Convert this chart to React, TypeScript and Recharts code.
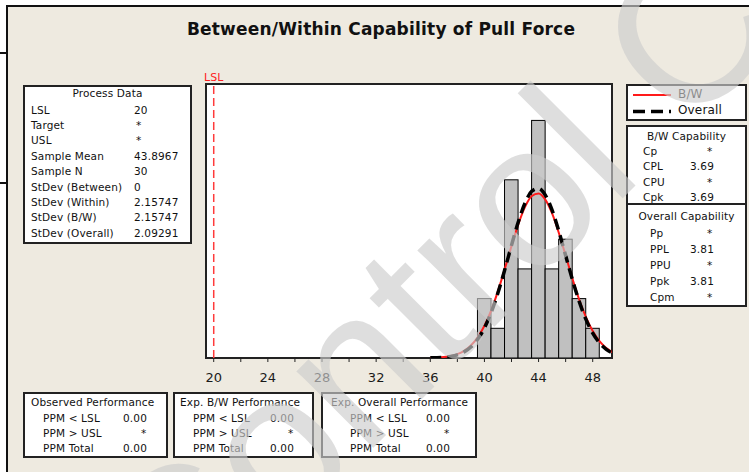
import { ComposedChart, Bar, Line, XAxis, YAxis, ReferenceLine } from 'recharts';

const TITLE = 'Between/Within Capability of Pull Force';

// histogram: bin centres (width 1) and counts
const BIN_WIDTH = 1;
const BIN_CENTERS = [40, 41, 42, 43, 44, 45, 46, 47, 48];
const BIN_COUNTS = [2, 1, 6, 3, 8, 3, 4, 2, 1];

// fitted curves (count scale)
const CURVE_X = [36, 36.5, 37, 37.5, 38, 38.5, 39, 39.5, 40, 40.5, 41, 41.5, 42, 42.5, 43, 43.5, 44, 44.5, 45, 45.5, 46, 46.5, 47, 47.5, 48, 48.5, 49, 49.5];
const BW_CURVE = [0.007, 0.016, 0.034, 0.068, 0.132, 0.243, 0.422, 0.695, 1.086, 1.606, 2.252, 2.993, 3.769, 4.498, 5.088, 5.454, 5.541, 5.334, 4.867, 4.209, 3.449, 2.679, 1.971, 1.375, 0.909, 0.57, 0.338, 0.19];
const OVERALL_CURVE = [0.005, 0.011, 0.025, 0.054, 0.108, 0.206, 0.37, 0.63, 1.011, 1.532, 2.195, 2.968, 3.793, 4.577, 5.217, 5.617, 5.712, 5.486, 4.976, 4.265, 3.451, 2.638, 1.905, 1.299, 0.837, 0.509, 0.293, 0.159];

const LSL = 20;
const X_DOMAIN = [19.43, 49.425];
const Y_DOMAIN = [0, 9.226];
const X_TICKS = [20, 22, 24, 26, 28, 30, 32, 34, 36, 38, 40, 42, 44, 46, 48];
const X_LABELS = [20, 24, 28, 32, 36, 40, 44, 48];

const PROCESS_LABELS = ['LSL', 'Target', 'USL', 'Sample Mean', 'Sample N', 'StDev (Between)', 'StDev (Within)', 'StDev (B/W)', 'StDev (Overall)'];
const PROCESS_VALUES = ['20', '*', '*', '43.8967', '30', '0', '2.15747', '2.15747', '2.09291'];

const BW_CAP_LABELS = ['Cp', 'CPL', 'CPU', 'Cpk'];
const BW_CAP_VALUES = ['*', '3.69', '*', '3.69'];
const OVERALL_CAP_LABELS = ['Pp', 'PPL', 'PPU', 'Ppk', 'Cpm'];
const OVERALL_CAP_VALUES = ['*', '3.81', '*', '3.81', '*'];

const PERF_LABELS = ['PPM < LSL', 'PPM > USL', 'PPM Total'];
const OBSERVED_VALUES = ['0.00', '*', '0.00'];
const EXP_BW_VALUES = ['0.00', '*', '0.00'];
const EXP_OVERALL_VALUES = ['0.00', '*', '0.00'];

const histData = BIN_CENTERS.map((x, i) => ({ x, count: BIN_COUNTS[i] }));
const bwData = CURVE_X.map((x, i) => ({ x, y: BW_CURVE[i] }));
const overallData = CURVE_X.map((x, i) => ({ x, y: OVERALL_CURVE[i] }));

const PLOT_W = 406;
const BIN_PX = (PLOT_W / (X_DOMAIN[1] - X_DOMAIN[0])) * BIN_WIDTH;

const BG = '#eeeae0';
const FONT = '"DejaVu Sans", Verdana, sans-serif';
const panelText: React.CSSProperties = {
  position: 'absolute',
  fontSize: 10.5,
  letterSpacing: 0.15,
  lineHeight: '13px',
  whiteSpace: 'nowrap',
  color: '#111',
};

function Txt({ x, y, children, w, center }: { x: number; y: number; children: React.ReactNode; w?: number; center?: boolean }) {
  return (
    <div style={{ ...panelText, left: x, top: y - 7, width: w, textAlign: center ? 'center' : 'left' }}>
      {children}
    </div>
  );
}

function Box({ x, y, w, h }: { x: number; y: number; w: number; h: number }) {
  return (
    <div
      style={{
        position: 'absolute',
        left: x,
        top: y,
        width: w,
        height: h,
        boxSizing: 'border-box',
        border: '2px solid #222',
        background: '#fff',
      }}
    />
  );
}

function PerfPanel({ x, w, title, titleX, lx, vx, values }: { x: number; w: number; title: string; titleX: number; lx: number; vx: number; values: string[] }) {
  return (
    <>
      <Box x={x} y={392} w={w} h={66} />
      <Txt x={titleX} y={403}>{title}</Txt>
      {PERF_LABELS.map((l, i) => (
        <Txt key={l} x={lx} y={419 + i * 15}>{l}</Txt>
      ))}
      {values.map((v, i) => (
        <Txt key={i} x={v === '*' ? vx + 18 : vx} y={419 + i * 15}>{v}</Txt>
      ))}
    </>
  );
}

const XTick = (props: any) => {
  const { x, y, payload } = props;
  if (!X_LABELS.includes(payload.value)) return null;
  return (
    <text x={x} y={y} dy={9.5} textAnchor="middle" fontSize={13} fill="#1a1a1a" fontFamily={FONT}>
      {payload.value}
    </text>
  );
};

// full-bin-width bar centred on its value
const HistBar = (props: any) => {
  const { x, y, width, height } = props;
  const cx = x + width / 2;
  return <rect x={cx - BIN_PX / 2} y={y} width={BIN_PX} height={height} fill="#c0c0c0" stroke="#000" strokeWidth={1} />;
};

export default function App() {
  return (
    <div style={{ position: 'relative', width: 749, height: 472, background: '#fff', overflow: 'hidden', fontFamily: FONT }}>
      <style>{'body{margin:0}'}</style>
      <div style={{ position: 'absolute', left: 6, top: 5, right: 0, bottom: 0, background: BG, borderLeft: '2px solid #111', borderTop: '2px solid #111' }} />
      <div style={{ position: 'absolute', left: 0, top: 52, width: 7, height: 2, background: '#111' }} />
      <div style={{ position: 'absolute', left: 0, top: 182, width: 7, height: 2, background: '#111' }} />

      <div style={{ position: 'absolute', left: 0, top: 19, width: 762, textAlign: 'center', fontSize: 17, fontWeight: 'bold', letterSpacing: 0.2, color: '#111', whiteSpace: 'nowrap' }}>
        {TITLE}
      </div>

      {/* process data */}
      <Box x={23} y={85} w={169} h={159} />
      <Txt x={23} y={94} w={169} center>Process Data</Txt>
      {PROCESS_LABELS.map((l, i) => (
        <Txt key={l} x={31} y={110.5 + i * 15.4}>{l}</Txt>
      ))}
      {PROCESS_VALUES.map((v, i) => (
        <Txt key={i} x={v === '*' ? 136 : 134} y={110.5 + i * 15.4}>{v}</Txt>
      ))}

      {/* plot box */}
      <div style={{ position: 'absolute', left: 205, top: 83, width: 408, height: 276, boxSizing: 'border-box', border: '2px solid #222', background: '#fff' }} />

      <div style={{ position: 'absolute', left: 0, top: 0 }}>
        <ComposedChart width={749} height={472} data={histData} margin={{ top: 84, right: 137, bottom: 84, left: 206 }}>
          <XAxis
            dataKey="x"
            type="number"
            domain={X_DOMAIN}
            allowDataOverflow
            ticks={X_TICKS}
            interval={0}
            tick={<XTick />}
            tickSize={4}
            tickMargin={10}
            tickLine={{ stroke: '#222' }}
            axisLine={false}
            height={30}
          />
          <YAxis type="number" domain={Y_DOMAIN} allowDataOverflow hide />
          <ReferenceLine
            x={LSL}
            stroke="#ff3b3b"
            strokeWidth={1.5}
            strokeDasharray="8 4"
            label={{ value: 'LSL', position: 'top', fill: '#ff2020', fontSize: 11, offset: 3, fontFamily: FONT }}
          />
          <Bar dataKey="count" shape={<HistBar />} isAnimationActive={false} />
          <Line data={bwData} dataKey="y" type="monotone" stroke="#ff1a1a" strokeWidth={2} dot={false} isAnimationActive={false} />
          <Line data={overallData} dataKey="y" type="monotone" stroke="#000" strokeWidth={3.5} strokeDasharray="11 6" dot={false} isAnimationActive={false} />
        </ComposedChart>
      </div>

      {/* legend */}
      <Box x={626} y={84} w={121} h={37} />
      <svg style={{ position: 'absolute', left: 0, top: 0 }} width={749} height={472}>
        <line x1={633} x2={671} y1={95} y2={95} stroke="#ff1a1a" strokeWidth={2} />
        <line x1={633} x2={671} y1={111.5} y2={111.5} stroke="#000" strokeWidth={3.5} strokeDasharray="12 6" />
      </svg>
      <div style={{ ...panelText, fontSize: 12, left: 678, top: 88 }}>B/W</div>
      <div style={{ ...panelText, fontSize: 12, left: 678, top: 104 }}>Overall</div>

      {/* capability */}
      <Box x={626} y={125} w={121} h={182} />
      <div style={{ position: 'absolute', left: 626, top: 203, width: 121, height: 2, background: '#222' }} />
      <Txt x={626} y={136.5} w={121} center>B/W Capability</Txt>
      {BW_CAP_LABELS.map((l, i) => (
        <Txt key={l} x={643} y={152 + i * 15.3}>{l}</Txt>
      ))}
      {BW_CAP_VALUES.map((v, i) => (
        <Txt key={i} x={v === '*' ? 707 : 690} y={152 + i * 15.3}>{v}</Txt>
      ))}
      <Txt x={626} y={216.5} w={121} center>Overall Capability</Txt>
      {OVERALL_CAP_LABELS.map((l, i) => (
        <Txt key={l} x={650} y={234 + i * 15.9}>{l}</Txt>
      ))}
      {OVERALL_CAP_VALUES.map((v, i) => (
        <Txt key={i} x={v === '*' ? 707 : 690} y={234 + i * 15.9}>{v}</Txt>
      ))}

      {/* performance */}
      <PerfPanel x={23} w={145} title="Observed Performance" titleX={31} lx={43} vx={123} values={OBSERVED_VALUES} />
      <PerfPanel x={173} w={141} title="Exp. B/W Performance" titleX={180} lx={193} vx={270} values={EXP_BW_VALUES} />
      <PerfPanel x={321} w={156} title="Exp. Overall Performance" titleX={331} lx={350} vx={426} values={EXP_OVERALL_VALUES} />

      {/* watermark */}
      <svg style={{ position: 'absolute', left: 0, top: 0, pointerEvents: 'none' }} width={749} height={472}>
        <text
          x={178}
          y={643}
          transform="rotate(-45 178 643)"
          fontSize={205}
          fontFamily='"Liberation Sans", Arial, sans-serif'
          fill="#cdcdcd"
          fillOpacity={0.65}
        >
          Control Charts
        </text>
      </svg>
    </div>
  );
}
